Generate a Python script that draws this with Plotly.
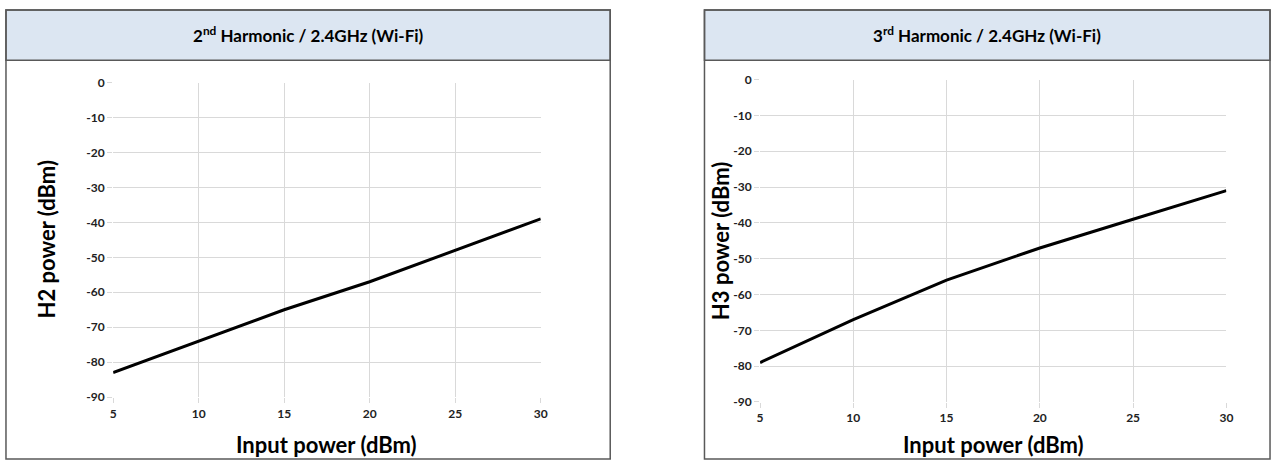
import plotly.graph_objects as go

# Input power sweep (dBm)
input_power = [5, 10, 15, 20, 25, 30]
# 2nd and 3rd harmonic output power (dBm)
h2_power = [-83, -74, -65, -57, -48, -39]
h3_power = [-79, -67, -56, -47, -39, -31]

x_ticks = [5, 10, 15, 20, 25, 30]
y_ticks = [0, -10, -20, -30, -40, -50, -60, -70, -80, -90]
y_tick_labels = [str(v) for v in y_ticks]  # plain hyphen, not unicode minus

W, H = 1280, 468
FONT = "Lato"


def px(x):
    return x / W


def py(y):
    return 1 - y / H


fig = go.Figure()
fig.add_trace(go.Scatter(x=input_power, y=h2_power, mode="lines",
                         line=dict(color="black", width=3),
                         xaxis="x", yaxis="y", showlegend=False))
fig.add_trace(go.Scatter(x=input_power, y=h3_power, mode="lines",
                         line=dict(color="black", width=3),
                         xaxis="x2", yaxis="y2", showlegend=False))

axis_common = dict(
    showgrid=True, gridcolor="#d9d9d9", gridwidth=1,
    zeroline=False, showline=False,
    ticks="outside", ticklen=5, tickcolor="#d9d9d9",
    tickfont=dict(family=FONT, size=12, color="#222222", weight="bold"),
)

# panel geometry in pixels
panels = [
    dict(box=(3, 612), plot=(111, 542, 77, 402), title="2<sup>nd</sup> Harmonic / 2.4GHz (Wi-Fi)",
         ytitle="H2 power (dBm)", ytitle_x=44),
    dict(box=(707, 1277), plot=(763, 1233, 74, 407), title="3<sup>rd</sup> Harmonic / 2.4GHz (Wi-Fi)",
         ytitle="H3 power (dBm)", ytitle_x=723),
]

shapes = []
annotations = []
layout_axes = {}
for i, p in enumerate(panels):
    bl, br = p["box"]
    pl, pr, pt, pb = p["plot"]
    sfx = "" if i == 0 else str(i + 1)
    layout_axes["xaxis" + sfx] = dict(
        axis_common, domain=[px(pl), px(pr)], range=[5, 30],
        tickvals=x_ticks, anchor="y" + sfx,
    )
    layout_axes["yaxis" + sfx] = dict(
        axis_common, domain=[py(pb), py(pt)], range=[-90, 0],
        tickvals=y_ticks, ticktext=y_tick_labels, anchor="x" + sfx,
    )
    # header band
    shapes.append(dict(type="rect", xref="paper", yref="paper",
                       x0=px(bl), x1=px(br), y0=py(54), y1=py(2),
                       fillcolor="#dce6f2", line=dict(color="#595959", width=1.5),
                       layer="below"))
    # outer box
    shapes.append(dict(type="rect", xref="paper", yref="paper",
                       x0=px(bl), x1=px(br), y0=py(466), y1=py(2),
                       fillcolor="rgba(0,0,0,0)", line=dict(color="#595959", width=1.5),
                       layer="below"))
    annotations.append(dict(text=p["title"], xref="paper", yref="paper",
                            x=px((bl + br) / 2), y=py(27), showarrow=False,
                            xanchor="center", yanchor="middle",
                            font=dict(family=FONT, size=17, color="black", weight="bold")))
    annotations.append(dict(text="Input power (dBm)", xref="paper", yref="paper",
                            x=px((pl + pr) / 2), y=py(451), showarrow=False,
                            xanchor="center", yanchor="middle",
                            font=dict(family=FONT, size=22, color="black", weight="bold")))
    annotations.append(dict(text=p["ytitle"], xref="paper", yref="paper",
                            x=px(p["ytitle_x"]), y=py((pt + pb) / 2), showarrow=False,
                            textangle=-90, xanchor="center", yanchor="middle",
                            font=dict(family=FONT, size=22, color="black", weight="bold")))

fig.update_layout(
    autosize=True,
    margin=dict(l=0, r=0, t=0, b=0),
    paper_bgcolor="white", plot_bgcolor="white",
    shapes=shapes, annotations=annotations,
    **layout_axes,
)

# strip page margins so the figure fills the window exactly
page_fix = (
    "document.documentElement.style.margin='0px';"
    "document.documentElement.style.overflow='hidden';"
    "document.body.style.margin='0px';"
    "document.body.style.overflow='hidden';"
)
fig.write_html("out.html", config={"displayModeBar": False, "responsive": True},
               default_width="100vw", default_height="100vh", post_script=page_fix)
